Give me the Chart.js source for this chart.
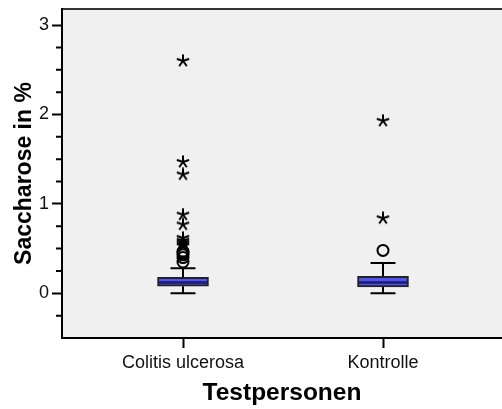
<!DOCTYPE html>
<html>
<head>
<meta charset="utf-8">
<script src="https://cdn.jsdelivr.net/npm/chart.js@4/dist/chart.umd.min.js"></script>
<style>
  html, body { margin: 0; padding: 0; background: #fff; }
  #wrap { width: 502px; height: 409px; }
</style>
</head>
<body>
<div id="wrap"><canvas id="boxChart"></canvas></div>
<script>
// Boxplot: Saccharose in % by test group

const categories = ['Colitis ulcerosa', 'Kontrolle'];
const whiskerLow = [0, 0];
const q1 = [0.08, 0.07];
const median = [0.12, 0.12];
const q3 = [0.18, 0.19];
const whiskerHigh = [0.28, 0.34];
// outliers (circles) and extreme values (stars), per category
const outliers = [[0.47, 0.45, 0.43, 0.40, 0.35], [0.48]];
const extremes = [[2.6, 1.47, 1.33, 0.88, 0.77, 0.62, 0.59, 0.57, 0.55, 0.53], [1.93, 0.84]];
const yMin = -0.5;
const yMax = 3.18;

const FONT = 'Arial, "Liberation Sans", sans-serif';

// asterisk used for extreme values
function makeStar(size) {
    const c = document.createElement('canvas');
    c.width = c.height = size;
    const g = c.getContext('2d');
    g.strokeStyle = '#000';
    g.lineWidth = 2;
    const r = size / 2 - 0.5;
    g.beginPath();
    for (let k = 0; k < 5; k++) {
        const a = (-90 + 72 * k) * Math.PI / 180;
        g.moveTo(size / 2, size / 2);
        g.lineTo(size / 2 + r * Math.cos(a), size / 2 + r * Math.sin(a));
    }
    g.stroke();
    return c;
}
const starImg = makeStar(14);

const boxPlot = {
    id: 'boxPlot',
    beforeDraw(chart) {
        const { ctx, chartArea: a } = chart;
        ctx.save();
        ctx.fillStyle = '#f0f0f0';
        ctx.fillRect(a.left, a.top, a.right - a.left, a.bottom - a.top);
        ctx.strokeStyle = '#333';
        ctx.lineWidth = 2;
        ctx.beginPath();
        ctx.moveTo(a.left, a.top);
        ctx.lineTo(a.right, a.top);
        ctx.stroke();
        ctx.restore();
    },
    afterDatasetsDraw(chart) {
        const { ctx } = chart;
        const xs = chart.scales.x, ys = chart.scales.y;
        ctx.save();
        categories.forEach((c, i) => {
            const px = xs.getPixelForValue(i + 1);
            ctx.strokeStyle = '#000';
            ctx.lineWidth = 2;
            ctx.beginPath();
            // whiskers
            ctx.moveTo(px, ys.getPixelForValue(q3[i]));
            ctx.lineTo(px, ys.getPixelForValue(whiskerHigh[i]));
            ctx.moveTo(px, ys.getPixelForValue(q1[i]));
            ctx.lineTo(px, ys.getPixelForValue(whiskerLow[i]));
            // caps
            ctx.moveTo(px - 12.5, ys.getPixelForValue(whiskerHigh[i]));
            ctx.lineTo(px + 12.5, ys.getPixelForValue(whiskerHigh[i]));
            ctx.moveTo(px - 12.5, ys.getPixelForValue(whiskerLow[i]));
            ctx.lineTo(px + 12.5, ys.getPixelForValue(whiskerLow[i]));
            ctx.stroke();
            // median
            ctx.strokeStyle = '#1a1a70';
            ctx.lineWidth = 2.5;
            ctx.beginPath();
            ctx.moveTo(px - 24, ys.getPixelForValue(median[i]));
            ctx.lineTo(px + 24, ys.getPixelForValue(median[i]));
            ctx.stroke();
        });
        ctx.restore();
    },
    afterDraw(chart) {
        // short minor ticks on the y axis
        const { ctx, chartArea: a } = chart;
        const ys = chart.scales.y;
        ctx.save();
        ctx.strokeStyle = '#000';
        ctx.lineWidth = 2;
        ctx.beginPath();
        ys.ticks.forEach(t => {
            if (Number.isInteger(t.value) || t.value <= yMin) return;
            const py = ys.getPixelForValue(t.value);
            ctx.moveTo(a.left - 6, py);
            ctx.lineTo(a.left, py);
        });
        ctx.stroke();
        ctx.restore();
    }
};

const ctx = document.getElementById('boxChart').getContext('2d');
new Chart(ctx, {
    type: 'bar',
    data: {
        datasets: [{
            label: 'Box',
            data: categories.map((c, i) => ({ x: i + 1, y: [q1[i], q3[i]] })),
            backgroundColor: '#5252ee',
            borderColor: '#222',
            borderWidth: 2,
            borderSkipped: false,
            barThickness: 51,
            order: 2
        }, {
            type: 'scatter',
            label: 'Ausreißer',
            data: outliers.flatMap((vals, i) => vals.map(v => ({ x: i + 1, y: v }))),
            pointStyle: 'circle',
            pointRadius: 5.5,
            borderColor: '#000',
            borderWidth: 2,
            backgroundColor: 'rgba(0,0,0,0)',
            order: 1
        }, {
            type: 'scatter',
            label: 'Extremwerte',
            data: extremes.flatMap((vals, i) => vals.map(v => ({ x: i + 1, y: v }))),
            pointStyle: starImg,
            order: 1
        }]
    },
    options: {
        responsive: true,
        maintainAspectRatio: false,
        animation: false,
        layout: { autoPadding: false, padding: { top: 9, right: 0, left: 0, bottom: 0 } },
        plugins: {
            legend: { display: false },
            tooltip: { enabled: false }
        },
        scales: {
            x: {
                type: 'linear',
                offset: false,
                min: 0.395,
                max: 2.595,
                afterBuildTicks: scale => {
                    scale.ticks = categories.map((c, i) => ({ value: i + 1 }));
                },
                afterFit: scale => {
                    scale.height = 71;
                    scale.paddingLeft = 0;
                    scale.paddingRight = 0;
                },
                ticks: {
                    callback: v => categories[v - 1] || '',
                    color: '#111',
                    font: { family: FONT, size: 18 },
                    padding: 4,
                    maxRotation: 0
                },
                grid: {
                    offset: false,
                    drawOnChartArea: false,
                    tickLength: 10,
                    tickWidth: 2,
                    tickColor: '#000'
                },
                border: { color: '#000', width: 2 },
                title: {
                    display: true,
                    text: 'Testpersonen',
                    color: '#000',
                    font: { family: FONT, size: 24.5, weight: 'bold' },
                    padding: { top: 0, bottom: 1 }
                }
            },
            y: {
                min: yMin,
                max: yMax,
                afterFit: scale => {
                    scale.width = 62;
                    scale.paddingTop = 0;
                    scale.paddingBottom = 0;
                },
                ticks: {
                    stepSize: 0.25,
                    includeBounds: false,
                    autoSkip: false,
                    callback: v => Number.isInteger(v) ? v : '',
                    color: '#111',
                    font: { family: FONT, size: 18 },
                    padding: 3
                },
                grid: {
                    drawOnChartArea: false,
                    tickLength: 10,
                    tickWidth: 2,
                    tickColor: c => Number.isInteger(c.tick.value) ? '#000' : 'rgba(0,0,0,0)'
                },
                border: { color: '#000', width: 2 },
                title: {
                    display: true,
                    text: 'Saccharose in %',
                    color: '#000',
                    font: { family: FONT, size: 23, weight: 'bold' },
                    padding: { top: 11, bottom: 0 }
                }
            }
        }
    },
    plugins: [boxPlot]
});
</script>
</body>
</html>
